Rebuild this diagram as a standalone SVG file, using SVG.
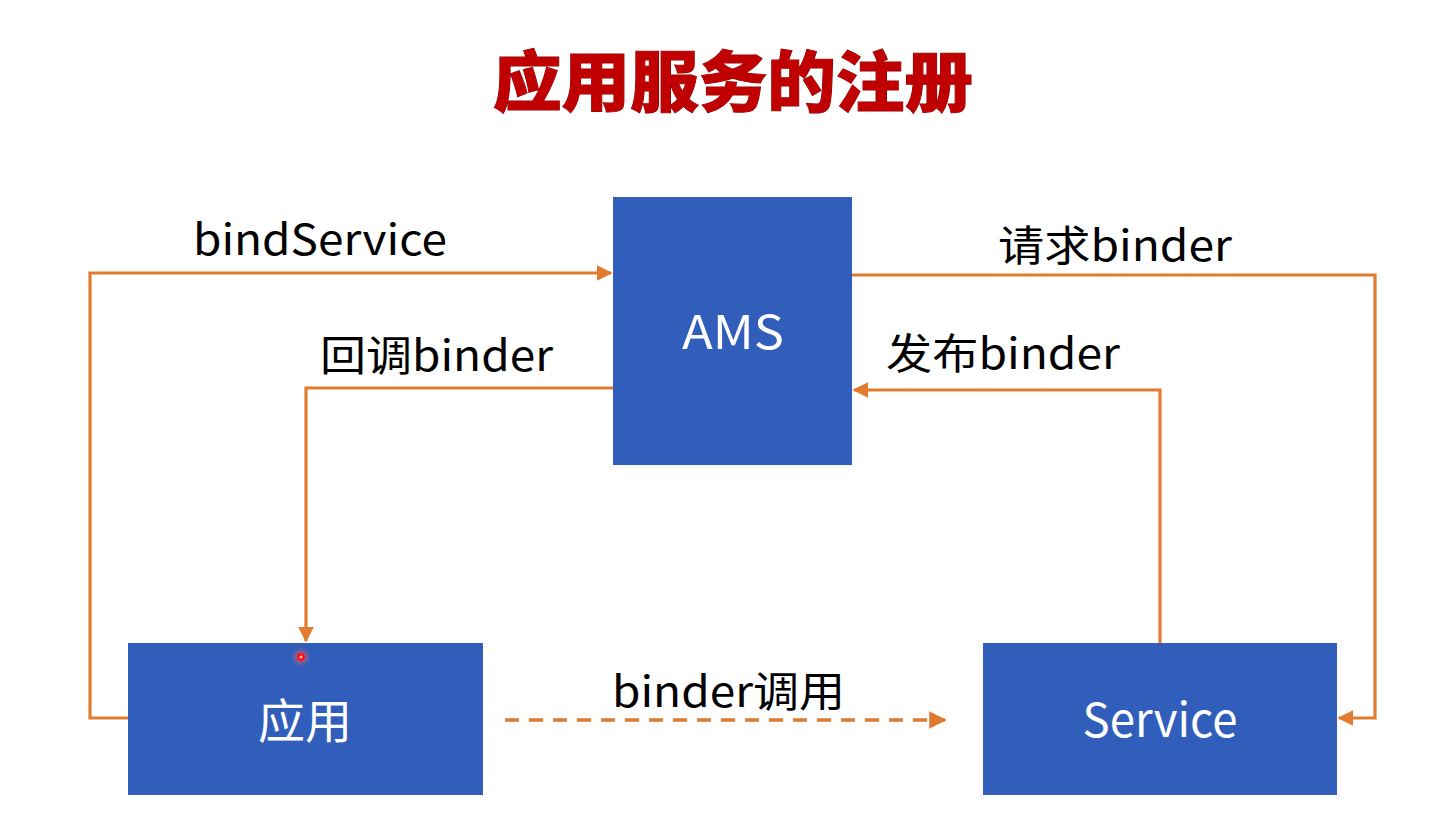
<svg xmlns="http://www.w3.org/2000/svg" width="1434" height="816" viewBox="0 0 1434 816">
<defs>
<style>
.box{fill:#305EBA;}
.lbl{font-family:"Noto Sans CJK SC","Noto Sans",sans-serif;font-size:47px;fill:#ffffff;text-anchor:middle;}
.txt{font-family:"Noto Sans CJK SC","Noto Sans",sans-serif;font-size:42px;fill:#000000;}
.title{font-family:"Noto Sans CJK SC",sans-serif;font-size:66px;font-weight:900;fill:#C00000;text-anchor:middle;}
.con{fill:none;stroke:#E07B2F;stroke-width:3.2;}
.dash{stroke-dasharray:14,10;stroke-width:3.5;}
</style>
<marker id="arr" viewBox="0 0 10 10" refX="9" refY="5" markerWidth="5" markerHeight="5" orient="auto" markerUnits="strokeWidth">
<path d="M0,0 L10,5 L0,10 z" fill="#E07B2F"/>
</marker>
<filter id="glow" x="-2" y="-2" width="5" height="5"><feGaussianBlur stdDeviation="2"/></filter>
</defs>
<rect width="1434" height="816" fill="#ffffff"/>
<text class="title" x="733" y="106" textLength="480" lengthAdjust="spacingAndGlyphs" style="paint-order:stroke;stroke:#8a0000;stroke-width:1">应用服务的注册</text>

<g id="connectors">
<path class="con" d="M128,718 H90 V273 H611" marker-end="url(#arr)"/>
<path class="con" d="M613,388 H306 V641" marker-end="url(#arr)"/>
<path class="con" d="M852,275 H1375 V718 H1339" marker-end="url(#arr)"/>
<path class="con" d="M1160,643 V390 H854" marker-end="url(#arr)"/>
<path class="con dash" d="M505,720 H945" marker-end="url(#arr)"/>
<text class="txt" x="193" y="255" textLength="254" lengthAdjust="spacingAndGlyphs">bindService</text>
<text class="txt" x="320" y="371" textLength="233" lengthAdjust="spacingAndGlyphs">回调binder</text>
<text class="txt" x="998" y="261" textLength="234" lengthAdjust="spacingAndGlyphs">请求binder</text>
<text class="txt" x="886" y="369" textLength="234" lengthAdjust="spacingAndGlyphs">发布binder</text>
<text class="txt" x="612" y="707" textLength="233" lengthAdjust="spacingAndGlyphs">binder调用</text>
</g>

<g id="ams">
<rect class="box" x="613" y="197" width="239" height="268"/>
<text class="lbl" x="733" y="349" textLength="102" lengthAdjust="spacingAndGlyphs">AMS</text>
</g>
<g id="app">
<rect class="box" x="128" y="643" width="355" height="152"/>
<text class="lbl" x="305" y="738">应用</text>
</g>
<g id="service">
<rect class="box" x="983" y="643" width="354" height="152"/>
<text class="lbl" x="1160" y="737" textLength="155" lengthAdjust="spacingAndGlyphs">Service</text>
</g>
<g id="pointer">
<circle cx="301" cy="657" r="7" fill="#ff6060" opacity="0.5" filter="url(#glow)"/>
<circle cx="301" cy="657" r="4" fill="#ff1010"/>
<circle cx="301" cy="657" r="1.5" fill="#ffb0b0"/>
</g>
</svg>
